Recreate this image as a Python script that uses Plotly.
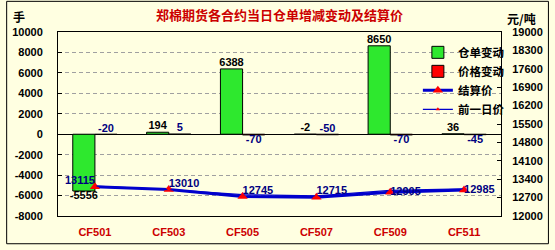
import plotly.graph_objects as go

categories = ["CF501", "CF503", "CF505", "CF507", "CF509", "CF511"]
warrant_change = [-5556, 194, 6388, -2, 8650, 36]
price_change = [-20, 5, -70, -50, -70, -45]
settle_price = [13115, 13010, 12745, 12715, 12905, 12985]
prev_price = [s - c for s, c in zip(settle_price, price_change)]
left_ticks = list(range(-8000, 10001, 2000))
right_ticks = list(range(12000, 19001, 700))

W, H = 555, 250
ML, MR, MT, MB = 53, 49, 32, 29
PW, PH = W - ML - MR, H - MT - MB

FONT = "Liberation Sans, Arial, sans-serif"
CJK = "Noto Sans CJK SC, sans-serif"
idx = list(range(len(categories)))
half = 0.15

fig = go.Figure()
fig.add_trace(go.Bar(x=idx, y=warrant_change, name="<b>仓单变动</b>",
                     marker=dict(color="#2EE82E", line=dict(color="black", width=1)),
                     yaxis="y", offsetgroup="a"))
fig.add_trace(go.Bar(x=idx, y=price_change, name="<b>价格变动</b>",
                     marker=dict(color="#FF0000", line=dict(color="black", width=1)),
                     yaxis="y", offsetgroup="b"))
fig.add_trace(go.Scatter(x=idx, y=settle_price, name="<b>结算价</b>", yaxis="y2",
                         mode="lines+markers",
                         line=dict(color="#0000CC", width=3),
                         marker=dict(symbol="triangle-up", color="#FF0000", size=9)))
fig.add_trace(go.Scatter(x=idx, y=prev_price, name="<b>前一日价</b>", yaxis="y2",
                         mode="lines+markers",
                         line=dict(color="#0000CC", width=1.2),
                         marker=dict(symbol="triangle-up", color="#FF0000", size=4)))

# data labels
g_pos = ["bottom center" if v < -100 else "top center" for v in warrant_change]
fig.add_trace(go.Scatter(x=[i - half for i in idx], y=warrant_change, mode="text",
                         text=[f"<b>{v}</b>" for v in warrant_change], textposition=g_pos,
                         textfont=dict(family=FONT, size=11, color="black"),
                         showlegend=False, hoverinfo="skip"))
r_pos = ["top center", "top center", "bottom center", "top center", "bottom center", "bottom center"]
fig.add_trace(go.Scatter(x=[i + half for i in idx], y=price_change, mode="text",
                         text=[f"<b>{v}</b>" for v in price_change], textposition=r_pos,
                         textfont=dict(family=FONT, size=11, color="#000080"),
                         showlegend=False, hoverinfo="skip"))
s_pos = ["top left", "top right", "top right", "top right", "middle right", "middle right"]
fig.add_trace(go.Scatter(x=idx, y=settle_price, mode="text", yaxis="y2",
                         text=[f"<b>{v}</b>" for v in settle_price], textposition=s_pos,
                         textfont=dict(family=FONT, size=11, color="#000080"),
                         showlegend=False, hoverinfo="skip"))

bg = "#FFFFE1"
zero_frac = (0 - left_ticks[0]) / (left_ticks[-1] - left_ticks[0])

fig.update_layout(
    width=W, height=H,
    margin=dict(l=ML, r=MR, t=MT, b=MB),
    paper_bgcolor=bg, plot_bgcolor=bg,
    barmode="group", bargap=0.4, bargroupgap=0,
    showlegend=True,
    legend=dict(x=(421 - ML) / PW, y=1 - (38 - MT) / PH, xanchor="left", yanchor="top",
                bgcolor="rgba(0,0,0,0)", font=dict(family=CJK, size=11.5, color="black"),
                tracegroupgap=0, itemwidth=30),
    title=dict(text="<b>郑棉期货各合约当日仓单增减变动及结算价</b>",
               x=(ML + PW / 2) / W, xanchor="center", y=1 - 15 / H, yanchor="middle",
               font=dict(family=CJK, size=13, color="#CC0000")),
    xaxis=dict(type="linear", range=[-0.5, len(categories) - 0.5],
               tickvals=idx, ticktext=[f"<b>{c}</b>" for c in categories],
               tickfont=dict(family=FONT, size=11, color="#CC0000"),
               ticks="", showgrid=False, zeroline=False,
               showline=True, linecolor="black", linewidth=1, mirror=True,
               ticklabelstandoff=6),
    xaxis2=dict(type="linear", range=[-0.5, len(categories) - 0.5],
                overlaying="x", anchor="free", position=zero_frac, side="top",
                tickvals=[i + 0.5 for i in idx[:-1]], ticks="outside", ticklen=4,
                tickcolor="black", showticklabels=False, showgrid=False,
                zeroline=False, showline=False),
    yaxis=dict(range=[left_ticks[0], left_ticks[-1]], tickvals=left_ticks,
               ticktext=[f"<b>{v}</b>" for v in left_ticks],
               tickfont=dict(family=FONT, size=11, color="black"),
               ticks="inside", ticklen=4, tickcolor="black",
               showgrid=True, gridcolor="#A0A0A0", griddash="4px,3px", gridwidth=1,
               zeroline=True, zerolinecolor="black", zerolinewidth=1,
               showline=True, linecolor="black", linewidth=1,
               ticklabelstandoff=12),
    yaxis2=dict(range=[right_ticks[0], right_ticks[-1]], tickvals=right_ticks,
                ticktext=[f"<b>{v}</b>" for v in right_ticks],
                tickfont=dict(family=FONT, size=11, color="black"),
                overlaying="y", side="right", anchor="x",
                ticks="inside", ticklen=4, tickcolor="black",
                showgrid=False, zeroline=False,
                showline=True, linecolor="black", linewidth=1,
                ticklabelstandoff=8),
    annotations=[
        dict(text="<b>手</b>", xref="paper", yref="paper",
             x=-(ML - 13) / PW, y=1 + (MT - 16) / PH, xanchor="center", yanchor="middle",
             showarrow=False, font=dict(family=CJK, size=12, color="black")),
        dict(text="<b>元/吨</b>", xref="paper", yref="paper",
             x=1 + (527 - ML - PW) / PW, y=1 + (MT - 18) / PH, xanchor="center", yanchor="middle",
             showarrow=False, font=dict(family=CJK, size=12, color="black")),
    ],
    shapes=[dict(type="rect", xref="paper", yref="paper",
                 x0=-(ML - 0.5) / PW, x1=1 + (MR - 0.5) / PW,
                 y0=-(MB - 0.5) / PH, y1=1 + (MT - 0.5) / PH,
                 line=dict(color="black", width=1), layer="below")],
)

fig.write_html("out.html")
